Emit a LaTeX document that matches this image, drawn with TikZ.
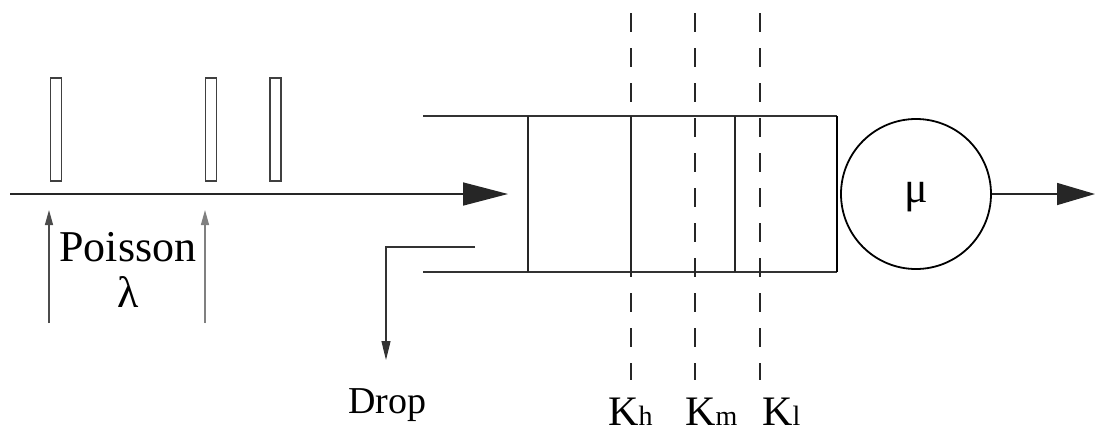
\documentclass[tikz,border=0pt]{standalone}
\usepackage{fontspec}
\setmainfont{Liberation Serif}
\usetikzlibrary{arrows.meta}
\begin{document}
\begin{tikzpicture}[x=1pt,y=-1pt,
  thinln/.style={line width=1.3pt,draw=black!85},
  qline/.style={line width=2.6pt,draw=black!80},
  packet/.style={draw=black!75,line width=1.6pt,fill=white,minimum width=11pt,minimum height=103pt,inner sep=0pt},
  dashln/.style={line width=1.6pt,draw=black!85,dash pattern=on 19pt off 16pt},
  bigarrow/.style={line width=1.6pt,draw=black!85,-{Triangle[length=45pt,width=23pt]}},
  smallarrow/.style={line width=1.3pt,-{Triangle[length=15pt,width=8pt]}},
  lbl/.style={font=\fontsize{44}{48}\selectfont,inner sep=0pt}
]
\useasboundingbox (0,0) rectangle (1095,432);
% packets
\node[packet] (p1) at (56,129.5) {};
\node[packet] (p2) at (211,129.5) {};
\node[packet] (p3) at (275.5,129.5) {};
% input line
\coordinate (in0) at (10,194);
\coordinate (in1) at (508,194);
\draw[bigarrow] (in0) -- (in1);
% arrival arrows
\coordinate (a1s) at (49,323); \coordinate (a1e) at (49,210);
\coordinate (a2s) at (205,323); \coordinate (a2e) at (205,210);
\draw[smallarrow,draw=black!70] (a1s) -- (a1e);
\draw[smallarrow,draw=black!50,fill=black] (a2s) -- (a2e);
\node[lbl] (poisson) at (128,247) {Poisson};
\node[lbl] (lambda) at (128,292) {λ};
% queue
\coordinate (qtl) at (423,116); \coordinate (qtr) at (837,116);
\coordinate (qbl) at (423,272); \coordinate (qbr) at (837,272);
\draw[qline] (qtl) -- (qtr);
\draw[qline] (qbl) -- (qbr);
\draw[line width=1.8pt] (qtr) -- (qbr);
\draw[thinln] (528,116) -- (528,272);
\draw[thinln] (631,116) -- (631,272);
\draw[thinln] (735,116) -- (735,272);
% dashed thresholds
\draw[dashln] (631,13) -- (631,380);
\draw[dashln] (695,13) -- (695,380);
\draw[dashln] (760,13) -- (760,380);
% server
\node[draw,circle,line width=1.8pt,minimum size=150pt,inner sep=0pt] (mu) at (916,194) {};
\node[lbl] (mulbl) at (916,197) {μ};
\coordinate (out) at (1095,194);
\draw[bigarrow,-{Triangle[length=38pt,width=22pt]}] (mu.east) -- (out);
% drop
\coordinate (d0) at (475,247); \coordinate (d1) at (386,247); \coordinate (d2) at (386,360);
\draw[line width=1.2pt,draw=black!80,-{Triangle[length=19pt,width=9pt]}] (d0) -- (d1) -- (d2);
\node[font=\fontsize{38}{40}\selectfont,inner sep=0pt,anchor=base west] (drop) at (348,413) {Drop};
% thresholds labels
\node[font=\fontsize{42}{44}\selectfont,inner sep=0pt,anchor=base west] (kh) at (608,425) {K{\fontsize{28}{30}\selectfont h}};
\node[font=\fontsize{42}{44}\selectfont,inner sep=0pt,anchor=base west] (km) at (685,425) {K{\fontsize{28}{30}\selectfont m}};
\node[font=\fontsize{42}{44}\selectfont,inner sep=0pt,anchor=base west] (kl) at (762,425) {K{\fontsize{28}{30}\selectfont l}};
\end{tikzpicture}
\end{document}
